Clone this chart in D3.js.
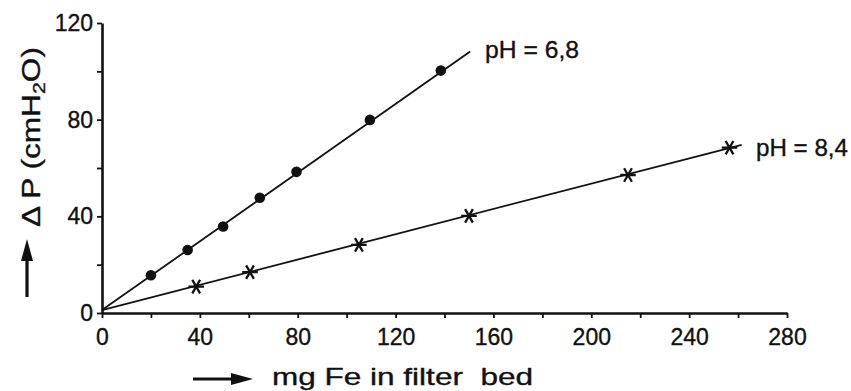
<!DOCTYPE html>
<html>
<head>
<meta charset="utf-8">
<script src="https://cdn.jsdelivr.net/npm/d3@7"></script>
<style>
body { margin: 0; background: #fff; }
svg text { font-family: "Liberation Sans", Arial, Helvetica, sans-serif; fill: #111; stroke: #111; stroke-width: 0.35px; }
</style>
</head>
<body>
<div id="chart"></div>
<script>
// data (mg Fe, delta P in cm H2O)
var xTicks = [0, 20, 40, 60, 80, 100, 120, 140, 160, 180, 200, 220, 240, 260, 280];
var yTicks = [0, 20, 40, 60, 80, 100, 120];

var fe68 = [20, 35, 49.5, 64.5, 79.5, 109.5, 138.5];
var dp68 = [15.6, 26.1, 35.8, 47.7, 58.4, 79.9, 100.3];

var fe84 = [38.5, 60.5, 105, 150, 215, 256.5];
var dp84 = [10.9, 16.9, 28.2, 40.2, 57.1, 68.4];

// fitted lines: [start, end]
var fit68x = [0, 150.5], fit68y = [1.2, 108.2];
var fit84x = [0, 261.5], fit84y = [1.2, 69.6];

var labels = ["pH = 6,8", "pH = 8,4"];

var width = 851, height = 391;

var svg = d3.select("#chart").append("svg")
	.attr("width", width)
	.attr("height", height);

var x = d3.scaleLinear().domain([0, 280]).range([102, 787]);
var y = d3.scaleLinear().domain([0, 120]).range([313, 23]);

// axes
var xAxis = d3.axisBottom(x)
	.tickValues(xTicks)
	.tickFormat(function(d) { return d % 40 === 0 ? d : ""; })
	.tickSize(5)
	.tickSizeOuter(0)
	.tickPadding(11);

var yAxis = d3.axisLeft(y)
	.tickValues(yTicks)
	.tickFormat(function(d) { return d % 40 === 0 ? d : ""; })
	.tickSize(5)
	.tickSizeOuter(0)
	.tickPadding(4);

var gx = svg.append("g").attr("transform", "translate(0," + y(0) + ")").call(xAxis);
var gy = svg.append("g").attr("transform", "translate(" + x(0) + ",0)").call(yAxis);

[gx, gy].forEach(function(g) {
	g.select(".domain").attr("stroke", "#111").attr("stroke-width", 2.6);
	g.selectAll(".tick line").attr("stroke", "#111").attr("stroke-width", 1.8);
	g.selectAll(".tick text")
		.attr("fill", "#111")
		.attr("stroke", "#111").attr("stroke-width", 0.35)
		.style("font-size", "23px")
		.style("font-family", '"Liberation Sans", Arial, sans-serif');
});

// fitted lines
var line = d3.line()
	.x(function(d) { return x(d[0]); })
	.y(function(d) { return y(d[1]); });

svg.append("path")
	.datum(d3.zip(fit68x, fit68y))
	.attr("d", line)
	.attr("fill", "none")
	.attr("stroke", "#111")
	.attr("stroke-width", 1.8);

svg.append("path")
	.datum(d3.zip(fit84x, fit84y))
	.attr("d", line)
	.attr("fill", "none")
	.attr("stroke", "#111")
	.attr("stroke-width", 1.8);

// points
svg.selectAll("circle.p68")
	.data(d3.zip(fe68, dp68))
	.enter().append("circle")
	.attr("class", "p68")
	.attr("cx", function(d) { return x(d[0]); })
	.attr("cy", function(d) { return y(d[1]); })
	.attr("r", 5.3)
	.attr("fill", "#111");

var star = d3.symbol().type(d3.symbolAsterisk).size(170);

svg.selectAll("path.p84")
	.data(d3.zip(fe84, dp84))
	.enter().append("path")
	.attr("class", "p84")
	.attr("d", star)
	.attr("transform", function(d) { return "translate(" + x(d[0]) + "," + y(d[1]) + ") rotate(90)"; })
	.attr("fill", "none")
	.attr("stroke", "#111")
	.attr("stroke-width", 2.3);

// series labels
svg.append("text")
	.attr("x", 485).attr("y", 58)
	.style("font-size", "24px")
	.attr("textLength", 94).attr("lengthAdjust", "spacingAndGlyphs")
	.text(labels[0]);

svg.append("text")
	.attr("x", 756).attr("y", 156)
	.style("font-size", "24px")
	.attr("textLength", 92).attr("lengthAdjust", "spacingAndGlyphs")
	.text(labels[1]);

// axis titles
svg.append("text")
	.attr("x", 272).attr("y", 385)
	.style("font-size", "24px")
	.style("white-space", "pre")
	.attr("textLength", 261).attr("lengthAdjust", "spacingAndGlyphs")
	.text("mg Fe in filter  bed");

var yt = svg.append("text")
	.attr("transform", "translate(40,227) rotate(-90)")
	.style("font-size", "25px")
	.attr("textLength", 180).attr("lengthAdjust", "spacingAndGlyphs");
yt.append("tspan").text("\u0394 P (cmH");
yt.append("tspan").attr("dy", 5).style("font-size", "17px").text("2");
yt.append("tspan").attr("dy", -5).text("O)");

// arrows
function arrow(x1, y1, x2, y2) {
	var a = Math.atan2(y2 - y1, x2 - x1), L = 22, w = 6;
	var bx = x2 - L * Math.cos(a), by = y2 - L * Math.sin(a);
	svg.append("line")
		.attr("x1", x1).attr("y1", y1).attr("x2", bx).attr("y2", by)
		.attr("stroke", "#111").attr("stroke-width", 3.2);
	svg.append("path")
		.attr("d", "M" + x2 + "," + y2 +
			"L" + (bx + w * Math.sin(a)) + "," + (by - w * Math.cos(a)) +
			"L" + (bx - w * Math.sin(a)) + "," + (by + w * Math.cos(a)) + "Z")
		.attr("fill", "#111");
}
arrow(193, 379, 253, 379);
arrow(27, 297, 27, 239);
</script>
</body>
</html>
